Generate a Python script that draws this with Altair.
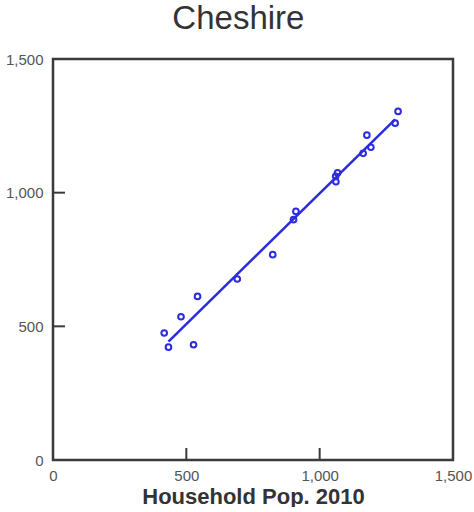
import altair as alt
import pandas as pd

# Household population (2010) vs. a second population count, Cheshire
hh_pop_2010 = [1294, 1283, 1177, 1192, 1163, 1067, 1060, 1061, 911, 902,
               824, 691, 542, 480, 417, 433, 527]
pop_value = [1304, 1260, 1215, 1170, 1147, 1074, 1061, 1041, 930, 899,
             768, 677, 612, 536, 475, 422, 431]

# x range covered by the fitted line
fit_extent = [433, 1283]

x_tick_values = [500, 1000]
y_tick_values = [500, 1000]
axis_values = [0, 500, 1000, 1500]

BLUE = "#2b2be0"
FRAME = "#3a3a3a"
W, H = 400, 401
TICK_LEN = 12

df = pd.DataFrame({"x": hh_pop_2010, "y": pop_value})
xt = pd.DataFrame({"xv": x_tick_values})
yt = pd.DataFrame({"yv": y_tick_values})
frame_df = pd.DataFrame({"panel": ["Cheshire"]})

x_scale = alt.Scale(domain=[0, 1500], nice=False, zero=True)
y_scale = alt.Scale(domain=[0, 1500], nice=False, zero=True)

x_axis = alt.Axis(values=axis_values, format=",d", title="Household Pop. 2010",
                  labelPadding=8, titlePadding=3)
y_axis = alt.Axis(values=axis_values, format=",d", title=None,
                  labelPadding=10, minExtent=48, maxExtent=48)

# box around the plot area
frame = alt.Chart(frame_df).mark_rect(
    filled=False, stroke=FRAME, strokeWidth=2.5
).encode(
    x=alt.value(0), x2=alt.value(W), y=alt.value(0), y2=alt.value(H),
)

# inward tick marks on the bottom and left edges of the frame
x_ticks = alt.Chart(xt).mark_rule(color=FRAME, strokeWidth=2).encode(
    x=alt.X("xv:Q", scale=x_scale, axis=x_axis),
    y=alt.value(H - TICK_LEN), y2=alt.value(H),
)
y_ticks = alt.Chart(yt).mark_rule(color=FRAME, strokeWidth=2).encode(
    y=alt.Y("yv:Q", scale=y_scale, axis=y_axis),
    x=alt.value(0), x2=alt.value(TICK_LEN),
)

fit = alt.Chart(df).transform_regression(
    "x", "y", extent=fit_extent
).mark_line(color=BLUE, strokeWidth=2.5).encode(
    x=alt.X("x:Q", scale=x_scale, axis=x_axis),
    y=alt.Y("y:Q", scale=y_scale, axis=y_axis),
)

points = alt.Chart(df).mark_point(
    shape="circle", filled=False, color=BLUE, size=32, strokeWidth=2, opacity=1
).encode(
    x=alt.X("x:Q", scale=x_scale, axis=x_axis),
    y=alt.Y("y:Q", scale=y_scale, axis=y_axis),
)

chart = alt.layer(fit, points, x_ticks, y_ticks, frame).properties(
    width=W, height=H,
    background="white",
    padding={"left": 5, "top": 3, "right": 0, "bottom": 0},
    title=alt.TitleParams("Cheshire", fontSize=33, font="Liberation Sans",
                          fontWeight="normal", color="#333333",
                          anchor="middle", frame="bounds", offset=16),
).configure_view(
    strokeWidth=0
).configure_axis(
    grid=False, domain=False, ticks=False, tickSize=0,
    labelFlush=False, labelOverlap=False,
    labelFontSize=15, labelColor="#555555", labelFont="Liberation Sans",
    titleFontSize=22, titleFont="Liberation Sans", titleFontWeight="bold",
    titleColor="#333333",
)

chart.save("out.html", embed_options={"renderer": "svg", "actions": False})
